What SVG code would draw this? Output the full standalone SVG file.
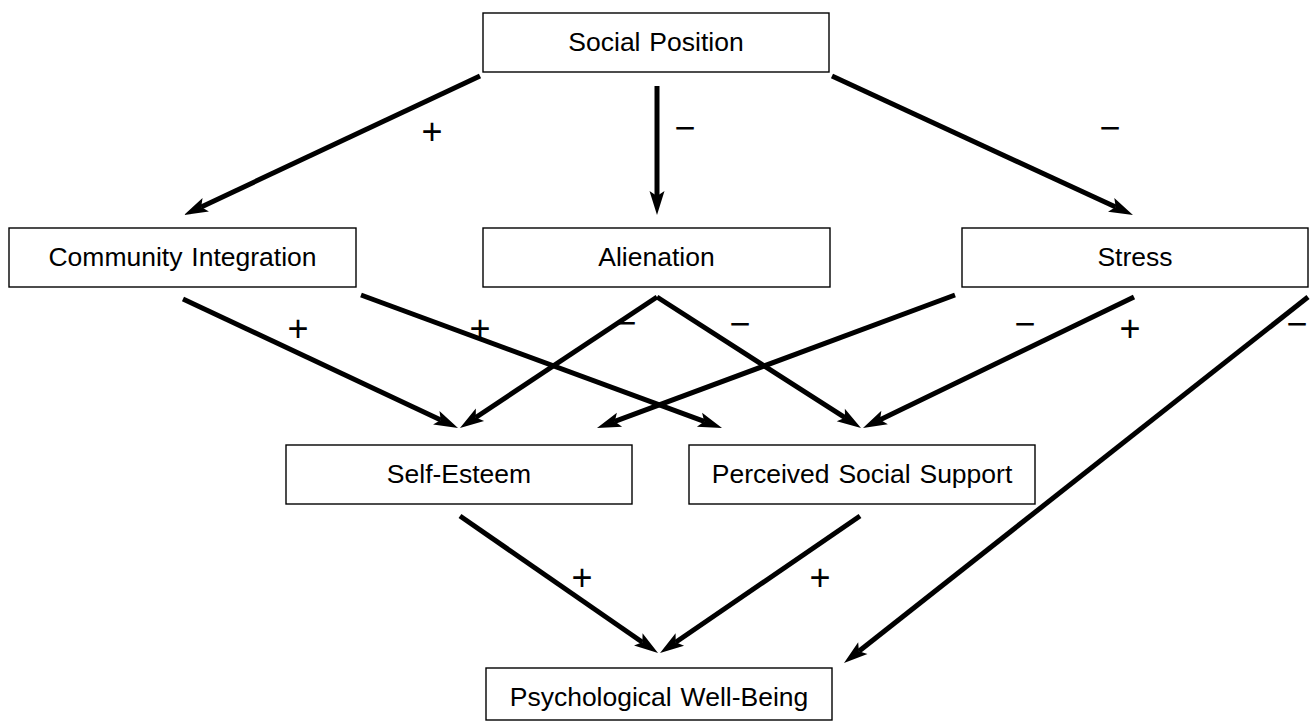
<svg xmlns="http://www.w3.org/2000/svg" width="1311" height="722" viewBox="0 0 1311 722">
<style>
.box{fill:#fff;stroke:#000;stroke-width:1.4}
.lbl{font-family:"Liberation Sans",Arial,sans-serif;font-size:26.5px;word-spacing:1.5px;fill:#000;text-anchor:middle}
.sign{font-family:"Liberation Sans",Arial,sans-serif;font-size:36px;fill:#000;text-anchor:middle}
.edge{stroke:#000;stroke-width:5;fill:none;marker-end:url(#ah)}
</style>
<defs>
<marker id="ah" markerUnits="userSpaceOnUse" markerWidth="30" markerHeight="20" refX="5" refY="0" viewBox="0 -10 30 20" orient="auto" overflow="visible">
<path d="M0,-7.5 L24,0 L0,7.5 L5,0 Z" fill="#000"/>
</marker>
</defs>
<rect width="1311" height="722" fill="#fff"/>
<g id="connectors">
<line class="edge" x1="480" y1="76" x2="201.2" y2="206.9"/>
<line class="edge" x1="657" y1="86" x2="657" y2="196"/>
<line class="edge" x1="832" y1="76" x2="1115.7" y2="207"/>
<line class="edge" x1="183" y1="299" x2="440.8" y2="419.9"/>
<line class="edge" x1="361" y1="295" x2="704.2" y2="421.4"/>
<line class="edge" x1="657" y1="297" x2="475.8" y2="417.5"/>
<line class="edge" x1="657" y1="297" x2="845" y2="417.7"/>
<line class="edge" x1="955" y1="295" x2="614.8" y2="421.4"/>
<line class="edge" x1="1134" y1="297" x2="880.1" y2="419.7"/>
<line class="edge" x1="1308" y1="297" x2="858.9" y2="651.2"/>
<line class="edge" x1="460" y1="516" x2="642.4" y2="642.2"/>
<line class="edge" x1="860" y1="516" x2="675.7" y2="642.3"/>
</g>
<g id="signs">
<text class="sign" x="432" y="144">+</text>
<text class="sign" x="685" y="140">−</text>
<text class="sign" x="1110" y="140">−</text>
<text class="sign" x="298" y="341">+</text>
<text class="sign" x="480" y="341">+</text>
<text class="sign" x="626" y="335">−</text>
<text class="sign" x="740" y="336">−</text>
<text class="sign" x="1025" y="336">−</text>
<text class="sign" x="1130" y="341">+</text>
<text class="sign" x="1297" y="336">−</text>
<text class="sign" x="582" y="590">+</text>
<text class="sign" x="820" y="590">+</text>
</g>
<g id="social-position"><rect class="box" x="483" y="13" width="346" height="59"/><text class="lbl" x="656" y="51">Social Position</text></g>
<g id="community-integration"><rect class="box" x="9" y="228" width="347" height="59"/><text class="lbl" x="182.5" y="266">Community Integration</text></g>
<g id="alienation"><rect class="box" x="483" y="228" width="347" height="59"/><text class="lbl" x="656.5" y="266">Alienation</text></g>
<g id="stress"><rect class="box" x="962" y="228" width="346" height="59"/><text class="lbl" x="1135" y="266">Stress</text></g>
<g id="self-esteem"><rect class="box" x="286" y="445" width="346" height="59"/><text class="lbl" x="459" y="483">Self-Esteem</text></g>
<g id="perceived-social-support"><rect class="box" x="689" y="445" width="346" height="59"/><text class="lbl" x="862" y="483">Perceived Social Support</text></g>
<g id="psychological-well-being"><rect class="box" x="486" y="668" width="346" height="52"/><text class="lbl" x="659" y="706">Psychological Well-Being</text></g>
</svg>
